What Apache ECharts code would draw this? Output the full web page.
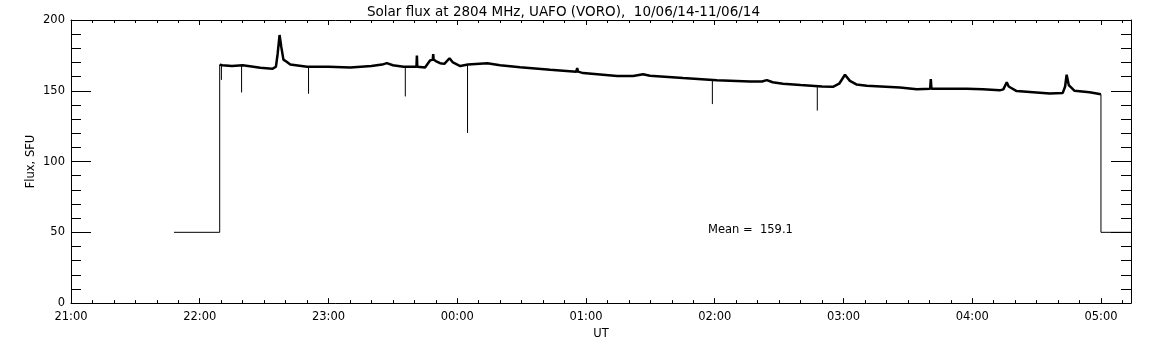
<!DOCTYPE html>
<html>
<head>
<meta charset="utf-8">
<script src="https://cdn.jsdelivr.net/npm/echarts@6/dist/echarts.min.js"></script>
<style>
  html, body { margin: 0; padding: 0; background: #fff; }
  #chart { width: 1152px; height: 345px; }
</style>
</head>
<body>
<div id="chart"></div>
<script>
// time in minutes after 21:00 UT
const xMin = 0;
const xMax = 494;
const yTicks = [0, 50, 100, 150, 200];

// receiver off / calibration level
const offLevel = 50;
const offStart = 48;
const obsStart = 69.3;
const obsEnd = 480;

// main flux trace (SFU)
const traceT = [69.3, 70.5, 75, 80, 85, 88.2, 93.8, 95.5, 96.3, 97.2, 98, 99, 100.5, 102.2, 110, 120, 130.2, 140, 145, 147.2, 150, 155, 161.0, 161.2, 161.4, 165, 167.4, 168.6, 168.8, 169, 170, 172, 174, 176.4, 178, 181.4, 185, 194, 200, 209.3, 223.3, 235.5, 235.9, 236.3, 238.7, 254.5, 262, 266.6, 269.8, 285.2, 301, 316.4, 322, 324.3, 327, 331.8, 340, 350, 355.1, 358, 360.7, 363, 366, 370.9, 386.3, 394.2, 400.4, 400.7, 401.0, 410, 417.5, 425, 432.8, 434.5, 436.1, 437, 440.7, 456.1, 462.2, 463.3, 464, 465, 467.7, 474.7, 480];
const traceV = [168.5, 168, 167.5, 168, 167, 166.2, 165.5, 167, 176, 189.4, 181, 172, 170.5, 168.5, 167, 167, 166.5, 167.5, 168.5, 169.5, 168, 167, 167, 174.8, 167, 166.5, 171.5, 172, 176, 172, 171, 169.5, 169, 173, 170, 167.5, 168.5, 169.5, 168, 166.7, 164.8, 163.5, 166, 163.5, 162.5, 160.5, 160.5, 161.7, 160.6, 159, 157.5, 156.6, 156.5, 157.5, 156, 155, 154, 153, 152.8, 155, 161.3, 157, 154.5, 153.5, 152.3, 151, 151.5, 158.2, 151.5, 151.5, 151.4, 151, 150.3, 151, 156, 153, 149.8, 148, 148.5, 153, 161.3, 154, 150, 149, 147.5];

// short dropouts
const dipT = [70.1, 79.5, 110.7, 155.8, 184.8, 298.9, 347.8];
const dipTop = [168, 168, 167, 167, 168.5, 157.5, 153];
const dipBottom = [157.7, 148.8, 147.9, 146, 120.2, 140.6, 136];

const meanText = 'Mean =  159.1';

function fmtUT(v) {
  const h = (21 + Math.floor(v / 60)) % 24;
  const m = Math.round(v % 60);
  return String(h).padStart(2, '0') + ':' + String(m).padStart(2, '0');
}

const chart = echarts.init(document.getElementById('chart'));

const traceData = traceT.map((t, i) => [t, traceV[i]]);
const stepData = [
  [offStart, offLevel], [obsStart, offLevel], [obsStart, traceV[0]], [obsStart, '-'],
  [obsEnd, traceV[traceV.length - 1]], [obsEnd, offLevel], [xMax, offLevel]
];
const dipData = [];
dipT.forEach((t, i) => {
  dipData.push([t, dipTop[i]], [t, dipBottom[i]], [t, '-']);
});

const txt = { color: '#000', fontFamily: 'DejaVu Sans', fontSize: 11.5 };
const axisLine = { show: true, onZero: false, lineStyle: { color: '#000', width: 1 } };

chart.setOption({
  animation: false,
  backgroundColor: '#fff',
  title: {
    text: 'Solar flux at 2804 MHz, UAFO (VORO),  10/06/14-11/06/14',
    left: 362,
    top: 0,
    textStyle: { color: '#000', fontFamily: 'DejaVu Sans', fontSize: 13.5, fontWeight: 'normal' }
  },
  grid: { left: 71, right: 21, top: 20, bottom: 41 },
  xAxis: [
    {
      type: 'value', min: xMin, max: xMax, interval: 60,
      name: 'UT', nameLocation: 'middle', nameGap: 22,
      nameTextStyle: txt,
      axisLine: axisLine,
      axisTick: { show: true, inside: true, length: 5, lineStyle: { color: '#000' } },
      minorTick: { show: true, splitNumber: 6, length: 3, lineStyle: { color: '#000' } },
      axisLabel: Object.assign({ margin: 8, formatter: fmtUT, showMaxLabel: false }, txt),
      splitLine: { show: false }
    },
    {
      type: 'value', position: 'top', min: xMin, max: xMax, interval: 60,
      axisLine: axisLine,
      axisTick: { show: true, inside: true, length: 5, lineStyle: { color: '#000' } },
      minorTick: { show: true, splitNumber: 6, length: 3, lineStyle: { color: '#000' } },
      axisLabel: { show: false },
      splitLine: { show: false }
    }
  ],
  yAxis: [
    {
      type: 'value', min: yTicks[0], max: yTicks[yTicks.length - 1], interval: 50,
      name: 'Flux, SFU', nameLocation: 'middle', nameGap: 34, nameRotate: 90,
      nameMoveOverlap: false,
      nameTextStyle: txt,
      axisLine: axisLine,
      axisTick: { show: true, inside: true, length: 20, lineStyle: { color: '#000' } },
      minorTick: { show: true, splitNumber: 5, length: 10, lineStyle: { color: '#000' } },
      axisLabel: Object.assign({ margin: 6 }, txt),
      splitLine: { show: false }
    },
    {
      type: 'value', position: 'right', min: yTicks[0], max: yTicks[yTicks.length - 1], interval: 50,
      axisLine: axisLine,
      axisTick: { show: true, inside: true, length: 20, lineStyle: { color: '#000' } },
      minorTick: { show: true, splitNumber: 5, length: 10, lineStyle: { color: '#000' } },
      axisLabel: { show: false },
      splitLine: { show: false }
    }
  ],
  graphic: [
    {
      type: 'text', left: 708, top: 224,
      style: { text: meanText, fill: '#000', font: '11.5px "DejaVu Sans"' }
    }
  ],
  series: [
    {
      name: 'steps', type: 'line', data: stepData, showSymbol: false, silent: true,
      connectNulls: false,
      lineStyle: { color: '#000', width: 1 }
    },
    {
      name: 'dips', type: 'line', data: dipData, showSymbol: false, silent: true,
      connectNulls: false,
      lineStyle: { color: '#000', width: 1 }
    },
    {
      name: 'flux', type: 'line', data: traceData, showSymbol: false, silent: true,
      lineStyle: { color: '#000', width: 2.5 }
    }
  ]
});
</script>
</body>
</html>
